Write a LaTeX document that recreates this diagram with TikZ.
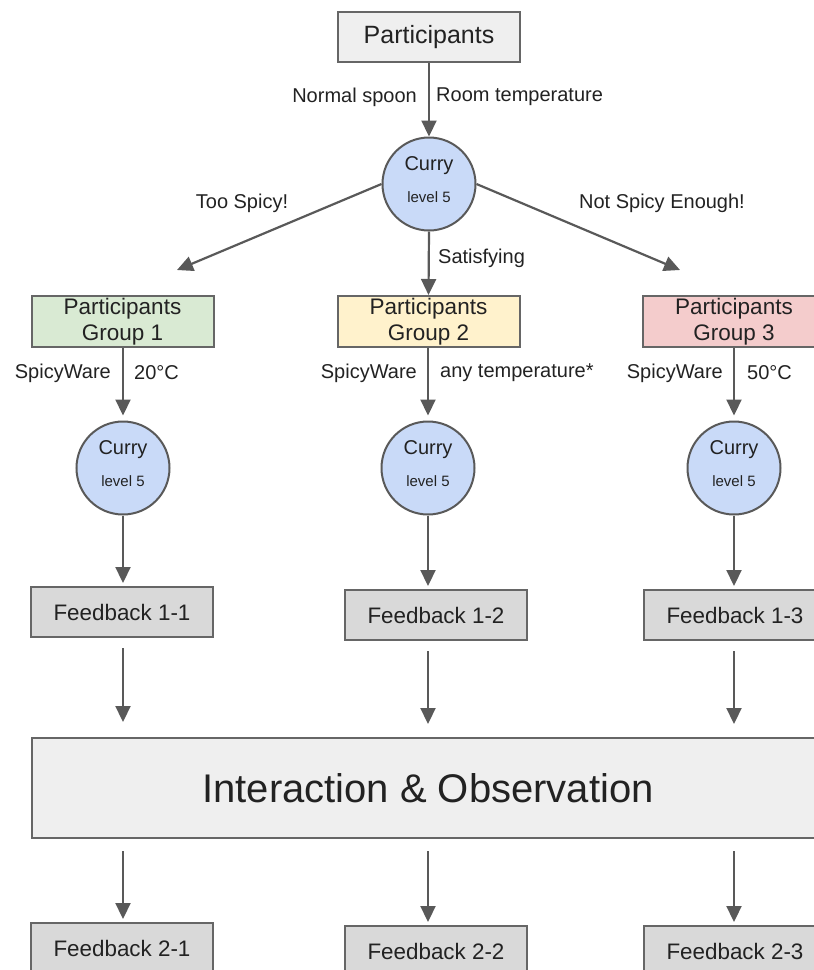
\documentclass[tikz,border=0pt]{standalone}
\usepackage{fontspec}
\setmainfont{Liberation Sans}
\usetikzlibrary{arrows.meta,calc}

\definecolor{edgegray}{HTML}{595959}
\definecolor{boxline}{HTML}{666666}
\definecolor{lightgray}{HTML}{EFEFEF}
\definecolor{fbgray}{HTML}{D9D9D9}
\definecolor{curryblue}{HTML}{C9DAF8}
\definecolor{grpgreen}{HTML}{D9EAD3}
\definecolor{grpyellow}{HTML}{FFF2CC}
\definecolor{grppink}{HTML}{F4CCCC}
\definecolor{ink}{HTML}{222222}

\tikzset{
  box/.style={draw=boxline, line width=2pt, minimum width=182pt, minimum height=50pt,
              inner sep=0pt, text=ink, align=center},
  topbox/.style={box, fill=lightgray, font=\fontsize{25}{30}\selectfont},
  grpbox/.style={box, minimum height=51pt, font=\fontsize{22.5}{26}\selectfont},
  fbbox/.style={box, fill=fbgray, font=\fontsize{22.4}{27}\selectfont},
  iobox/.style={box, fill=lightgray, minimum width=792pt, minimum height=100pt,
                font=\fontsize{40}{48}\selectfont},
  curry/.style={circle, draw=edgegray, line width=2pt, fill=curryblue, minimum size=93pt,
                inner sep=0pt, text=ink, align=center, text depth=8pt,
                font=\fontsize{20}{24}\selectfont},
  lbl/.style={text=ink, font=\fontsize{20}{24}\selectfont, inner sep=0pt},
  flow/.style={draw=edgegray, line width=2.2pt, -{Triangle[length=16pt,width=15pt]}},
}

\begin{document}
\begin{tikzpicture}[x=1pt, y=-1pt]
\useasboundingbox (0,0) rectangle (814,970);
\clip (0,0) rectangle (814,970);

% start and first tasting
\node[topbox] (p0) at (429,37) {Participants};
\node[curry] (c0) at (429,184) {Curry\\[8pt]{\fontsize{15}{18}\selectfont level 5}};

% the three groups
\node[grpbox, fill=grpgreen]  (g1) at (122.5,321.5) {Participants\\Group 1};
\node[grpbox, fill=grpyellow] (g2) at (428.5,321.5) {Participants\\Group 2};
\node[grpbox, fill=grppink]   (g3) at (734,321.5)   {Participants\\Group 3};

% second tasting with SpicyWare
\node[curry] (c1) at (123,468) {Curry\\[8pt]{\fontsize{15}{18}\selectfont level 5}};
\node[curry] (c2) at (428,468) {Curry\\[8pt]{\fontsize{15}{18}\selectfont level 5}};
\node[curry] (c3) at (734,468) {Curry\\[8pt]{\fontsize{15}{18}\selectfont level 5}};

% first feedback round
\node[fbbox] (f11) at (122,612) {Feedback 1-1};
\node[fbbox] (f12) at (436,615) {Feedback 1-2};
\node[fbbox] (f13) at (735,615) {Feedback 1-3};

% shared session
\node[iobox] (io) at (428,788) {Interaction \& Observation};

% second feedback round
\node[fbbox] (f21) at (122,948) {Feedback 2-1};
\node[fbbox] (f22) at (436,951) {Feedback 2-2};
\node[fbbox] (f23) at (735,951) {Feedback 2-3};

% loose arrow ends above groups 1 and 3
\coordinate (tl) at (177,270);
\coordinate (tr) at (680,270);

% connectors
\draw[flow] (p0.south) -- (c0.north);
\draw[flow] (c0.west) -- (tl);
\draw[flow] (c0.east) -- (tr);
\draw[flow] (c0.south) -- (g2.north);

\draw[flow, shorten >=5pt] (g1.south -| c1) -- (c1.north);
\draw[flow, shorten >=5pt] (g2.south -| c2) -- (c2.north);
\draw[flow, shorten >=5pt] (g3.south -| c3) -- (c3.north);

\draw[flow, shorten >=3pt] (c1.south) -- (c1 |- f11.north);
\draw[flow, shorten >=3pt] (c2.south) -- (c2 |- f12.north);
\draw[flow, shorten >=3pt] (c3.south) -- (c3 |- f13.north);

\draw[flow, shorten <=10pt, shorten >=15pt] (c1 |- f11.south) -- (c1 |- io.north);
\draw[flow, shorten <=10pt, shorten >=13pt] (c2 |- f12.south) -- (c2 |- io.north);
\draw[flow, shorten <=10pt, shorten >=13pt] (c3 |- f13.south) -- (c3 |- io.north);

\draw[flow, shorten <=12pt, shorten >=3pt] (c1 |- io.south) -- (c1 |- f21.north);
\draw[flow, shorten <=12pt, shorten >=3pt] (c2 |- io.south) -- (c2 |- f22.north);
\draw[flow, shorten <=12pt, shorten >=3pt] (c3 |- io.south) -- (c3 |- f23.north);

% edge labels
\node[lbl, anchor=east] (l0a) at (417,97) {Normal spoon};
\node[lbl, anchor=west] (l0b) at (436,97) {Room temperature};
\node[lbl] (lts) at (242,203) {Too Spicy!};
\node[lbl] (lns) at (662,203) {Not Spicy Enough!};
\node[lbl, anchor=west] (lsa) at (438,258) {Satisfying};

\node[lbl, anchor=east] (l1a) at (111,373) {SpicyWare};
\node[lbl, anchor=west] (l1b) at (134,373) {20°C};
\node[lbl, anchor=east] (l2a) at (417,373) {SpicyWare};
\node[lbl, anchor=west] (l2b) at (440,373) {any temperature*};
\node[lbl, anchor=east] (l3a) at (723,373) {SpicyWare};
\node[lbl, anchor=west] (l3b) at (747,373) {50°C};
\end{tikzpicture}
\end{document}
